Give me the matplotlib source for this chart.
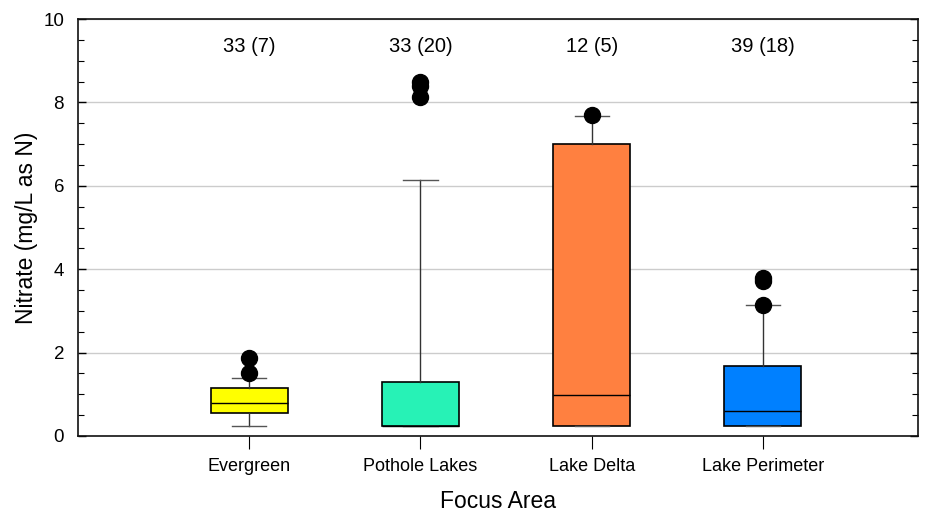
import matplotlib
matplotlib.use("Agg")
import matplotlib.pyplot as plt
from matplotlib.ticker import MultipleLocator

plt.rcParams['font.family'] = ['Liberation Sans', 'DejaVu Sans']

categories = ["Evergreen", "Pothole Lakes", "Lake Delta", "Lake Perimeter"]
counts = ["33 (7)", "33 (20)", "12 (5)", "39 (18)"]
q1 = [0.55, 0.25, 0.25, 0.25]
med = [0.80, 0.25, 0.98, 0.61]
q3 = [1.16, 1.30, 7.00, 1.68]
whislo = [0.25, 0.25, 0.25, 0.25]
whishi = [1.40, 6.14, 7.68, 3.14]
fliers = [[1.51, 1.87], [8.12, 8.40, 8.50], [7.70], [3.15, 3.72, 3.80]]
colors = ["#FFFF00", "#27F2B6", "#FF8040", "#0080FF"]

fig = plt.figure(figsize=(9.26, 5.12), dpi=100)
ax = fig.add_axes([78/926, 76/512, 840/926, 417/512])

stats = []
for i in range(len(categories)):
    stats.append(dict(q1=q1[i], med=med[i], q3=q3[i], whislo=whislo[i],
                      whishi=whishi[i], fliers=fliers[i], label=categories[i]))

positions = list(range(1, len(categories) + 1))
bp = ax.bxp(stats, positions=positions, widths=0.45, patch_artist=True,
            showfliers=True,
            boxprops=dict(edgecolor='black', linewidth=1.2),
            medianprops=dict(color='black', linewidth=1.0),
            whiskerprops=dict(color='#333333', linewidth=1.0),
            capprops=dict(color='#555555', linewidth=1.0),
            capwidths=0.2,
            flierprops=dict(marker='o', markerfacecolor='black',
                            markeredgecolor='black', markersize=11.5))
for patch, c in zip(bp['boxes'], colors):
    patch.set_facecolor(c)
    patch.set_zorder(2)

for x, t in zip(positions, counts):
    ax.text(x, 9.35, t, ha='center', va='center', fontsize=14.5, color='black')

ax.set_xlim(0, 4.906)
ax.set_ylim(0, 10)
ax.set_xticks(positions)
ax.set_xticklabels(categories)
ax.yaxis.set_major_locator(MultipleLocator(2))
ax.yaxis.set_minor_locator(MultipleLocator(0.5))
ax.tick_params(axis='y', which='major', direction='in', length=6, labelsize=13.5,
               right=True, width=1, pad=10)
ax.tick_params(axis='y', which='minor', direction='in', length=4, right=True,
               width=0.8)
ax.tick_params(axis='x', which='major', direction='out', length=9, labelsize=13,
               top=False, pad=7)
ax.grid(axis='y', which='major', color='#cccccc', linewidth=1, zorder=0)
ax.set_axisbelow(True)
for s in ax.spines.values():
    s.set_linewidth(1.2)
    s.set_color('#111111')

ax.set_ylabel("Nitrate (mg/L as N)", fontsize=16.5, labelpad=4)
ax.set_xlabel("Focus Area", fontsize=16.5, labelpad=11)

fig.savefig("out.png", dpi=100)
